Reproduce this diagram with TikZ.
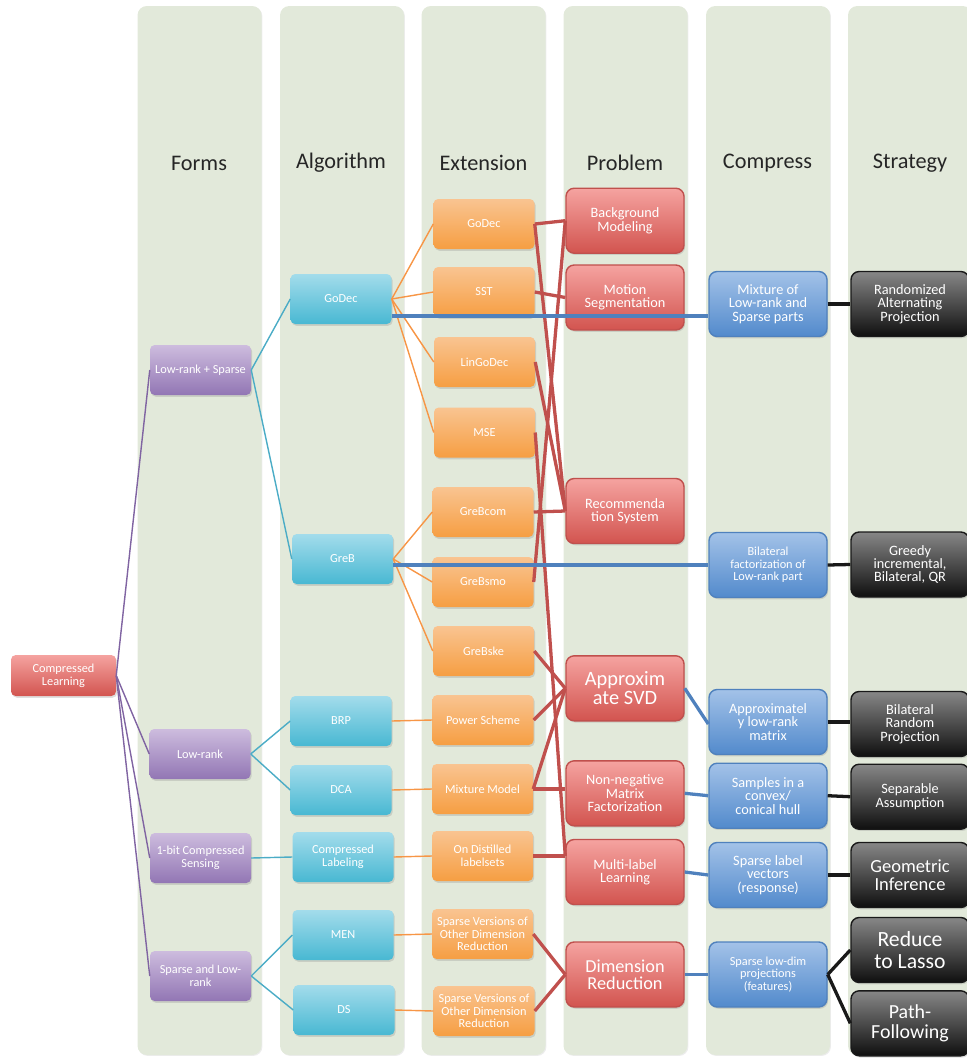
\documentclass[tikz,border=0pt]{standalone}
\usepackage{fontspec}
\setmainfont{Carlito}
\usepackage{tikz}
\usetikzlibrary{shapes, positioning, calc, shadows}

\definecolor{panelc}{RGB}{226,233,218}
\definecolor{headc}{RGB}{38,38,38}
\definecolor{purtop}{RGB}{205,188,222}
\definecolor{purbot}{RGB}{146,118,180}
\definecolor{purln}{RGB}{128,100,162}
\definecolor{cyantop}{RGB}{163,220,235}
\definecolor{cyanbot}{RGB}{72,184,210}
\definecolor{cyanln}{RGB}{75,172,198}
\definecolor{orgtop}{RGB}{249,196,145}
\definecolor{orgbot}{RGB}{246,158,66}
\definecolor{orgln}{RGB}{247,150,70}
\definecolor{redtop}{RGB}{245,163,160}
\definecolor{redbot}{RGB}{210,84,79}
\definecolor{redln}{RGB}{192,80,77}
\definecolor{blutop}{RGB}{163,194,232}
\definecolor{blubot}{RGB}{82,138,204}
\definecolor{bluln}{RGB}{79,129,189}
\definecolor{blktop}{RGB}{135,135,135}
\definecolor{blkbot}{RGB}{15,15,15}

\newlength{\pxu}
\setlength{\pxu}{0.03cm}

\newcommand\fntA{\fontsize{10.5}{10.8}\selectfont}
\newcommand\fntB{\fontsize{12.2}{11.5}\selectfont}
\newcommand\fntHead{\fontsize{19}{22}\selectfont}
\newcommand\fntSvd{\fontsize{17.4}{16.5}\selectfont}
\newcommand\fntDim{\fontsize{15.6}{14.6}\selectfont}
\newcommand\fntGeo{\fontsize{15.8}{15}\selectfont}
\newcommand\fntLasso{\fontsize{18.5}{18.5}\selectfont}
\newcommand\fntPath{\fontsize{17}{17}\selectfont}

\tikzset{
  panel/.style={fill=panelc, rounded corners=8pt,
    drop shadow={opacity=0.15, shadow xshift=0.8pt, shadow yshift=-0.8pt}},
  head/.style={font=\fntHead, text=headc},
  box/.style={rounded corners=4pt, inner sep=1pt, align=center, text=white,
    drop shadow={opacity=0.25, shadow xshift=1pt, shadow yshift=-1.5pt}},
  smallbox/.style={box, minimum width=101\pxu, minimum height=50\pxu, font=\fntA},
  bigbox/.style={box, rounded corners=7pt, line width=1.2pt,
    minimum width=118\pxu, minimum height=65\pxu, font=\fntB},
  rootbox/.style={box, top color=redtop, bottom color=redbot,
    minimum width=105\pxu, minimum height=41\pxu, font=\fntA},
  formbox/.style={smallbox, top color=purtop, bottom color=purbot},
  algbox/.style={smallbox, top color=cyantop, bottom color=cyanbot},
  extbox/.style={smallbox, top color=orgtop, bottom color=orgbot},
  probbox/.style={bigbox, top color=redtop, bottom color=redbot, draw=redln},
  compbox/.style={bigbox, top color=blutop, bottom color=blubot, draw=bluln},
  stratbox/.style={bigbox, top color=blktop, bottom color=blkbot, draw=black!90},
  topur/.style={draw=purln, line width=1.2pt},
  tocyan/.style={draw=cyanln, line width=1.2pt},
  toorg/.style={draw=orgln, line width=1.2pt},
  tored/.style={draw=redln, line width=2.8pt},
  toblue/.style={draw=bluln, line width=2.8pt},
  toblack/.style={draw=black!90, line width=2.8pt}
}

\begin{document}
\begin{tikzpicture}[x=0.03cm, y=-0.03cm]
\useasboundingbox (0,0) rectangle (966,1058);

\foreach \xs in {137.5,280,421.5,563.5,706,848}
  \fill[panel] (\xs,6) rectangle ++(124,1049);

\node[head] (hforms) at (199,163) {Forms};
\node[head] (halg) at (341,163) {Algorithm};
\node[head] (hext) at (483.5,163) {Extension};
\node[head] (hprob) at (625,163) {Problem};
\node[head] (hcomp) at (767.5,163) {Compress};
\node[head] (hstrat) at (910,163) {Strategy};

\node[rootbox] (root) at (63.5,675.5) {Compressed\\Learning};

\node[formbox] (lrs) at (200.5,370) {Low-rank + Sparse};
\node[formbox] (lr) at (200,754) {Low-rank};
\node[formbox] (onebit) at (200.5,858) {1-bit Compressed\\Sensing};
\node[formbox] (slr) at (200.5,976) {Sparse and Low-\\rank};

\node[algbox] (godec) at (341,299) {GoDec};
\node[algbox] (greb) at (342.5,559) {GreB};
\node[algbox] (brp) at (341,721) {BRP};
\node[algbox] (dca) at (341,790) {DCA};
\node[algbox] (clab) at (343,857) {Compressed\\Labeling};
\node[algbox] (men) at (343,935) {MEN};
\node[algbox] (ds) at (344,1010) {DS};

\node[extbox] (egodec) at (484,224) {GoDec};
\node[extbox] (sst) at (484,292) {SST};
\node[extbox] (lingodec) at (484.5,362) {LinGoDec};
\node[extbox] (mse) at (484.5,432.5) {MSE};
\node[extbox] (grebcom) at (483,512) {GreBcom};
\node[extbox] (grebsmo) at (483,582) {GreBsmo};
\node[extbox] (grebske) at (483.5,651) {GreBske};
\node[extbox] (power) at (483,720) {Power Scheme};
\node[extbox] (mixmod) at (482.5,789) {Mixture Model};
\node[extbox] (distilled) at (482.5,856) {On Distilled\\labelsets};
\node[extbox] (spvone) at (482.5,934) {Sparse Versions of\\Other Dimension\\Reduction};
\node[extbox] (spvtwo) at (484,1011) {Sparse Versions of\\Other Dimension\\Reduction};

\node[probbox] (bgmod) at (625,220.7) {Background\\Modeling};
\node[probbox] (motion) at (625,297.5) {Motion\\Segmentation};
\node[probbox] (recsys) at (625,511) {Recommenda\\tion System};
\node[probbox, font=\fntSvd] (asvd) at (625,688.3) {Approxim\\ate SVD};
\node[probbox] (nmf) at (625,793.3) {Non-negative\\Matrix\\Factorization};
\node[probbox] (mll) at (625,872) {Multi-label\\Learning};
\node[probbox, font=\fntDim] (dimred) at (625,974.5) {Dimension\\Reduction};

\node[compbox] (mixparts) at (768,304) {Mixture of\\Low-rank and\\Sparse parts};
\node[compbox, font=\fntA] (bilat) at (768,565) {Bilateral\\factorization of\\Low-rank part};
\node[compbox] (alr) at (768,722) {Approximatel\\y low-rank\\matrix};
\node[compbox] (samples) at (768,795.7) {Samples in a\\convex/\\conical hull};
\node[compbox] (slv) at (768,875) {Sparse label\\vectors\\(response)};
\node[compbox, font=\fntA] (sld) at (768,974.5) {Sparse low-dim\\projections\\(features)};

\node[stratbox] (rap) at (910,304) {Randomized\\Alternating\\Projection};
\node[stratbox] (greedy) at (910,564.5) {Greedy\\incremental,\\Bilateral, QR};
\node[stratbox] (brproj) at (910,724) {Bilateral\\Random\\Projection};
\node[stratbox] (sepas) at (910,796.7) {Separable\\Assumption};
\node[stratbox, font=\fntGeo] (geoinf) at (910,875) {Geometric\\Inference};
\node[stratbox, font=\fntLasso] (lasso) at (910,950) {Reduce\\to Lasso};
\node[stratbox, font=\fntPath] (pathf) at (910,1023.3) {Path-\\Following};

\foreach \t in {lrs,lr,onebit,slr}
  \draw[topur] (root.east) -- (\t.west);

\draw[tocyan] (lrs.east) -- (godec.west);
\draw[tocyan] (lrs.east) -- (greb.west);
\draw[tocyan] (lr.east) -- (brp.west);
\draw[tocyan] (lr.east) -- (dca.west);
\draw[tocyan] (onebit.east) -- (clab.west);
\draw[tocyan] (slr.east) -- (men.west);
\draw[tocyan] (slr.east) -- (ds.west);

\foreach \t in {egodec,sst,lingodec,mse}
  \draw[toorg] (godec.east) -- (\t.west);
\foreach \t in {grebcom,grebsmo,grebske}
  \draw[toorg] (greb.east) -- (\t.west);
\draw[toorg] (brp.east) -- (power.west);
\draw[toorg] (dca.east) -- (mixmod.west);
\draw[toorg] (clab.east) -- (distilled.west);
\draw[toorg] (men.east) -- (spvone.west);
\draw[toorg] (ds.east) -- (spvtwo.west);

\coordinate (mllin) at (distilled.east -| mll.west);
\draw[tored] (egodec.east) -- (bgmod.west);
\draw[tored] (grebsmo.east) -- (bgmod.west);
\draw[tored] (sst.east) -- (motion.west);
\draw[tored] (egodec.east) -- (recsys.west);
\draw[tored] (lingodec.east) -- (recsys.west);
\draw[tored] (grebcom.east) -- (recsys.west);
\draw[tored] (mse.east) -- (mllin);
\draw[tored] (distilled.east) -- (mllin);
\draw[tored] (grebske.east) -- (asvd.west);
\draw[tored] (power.east) -- (asvd.west);
\draw[tored] (mixmod.east) -- (asvd.west);
\draw[tored] (mixmod.east) -- (mixmod.east -| nmf.west);
\draw[tored] (spvone.east) -- (dimred.west);
\draw[tored] (spvtwo.east) -- (dimred.west);

\draw[toblue] ([yshift=-17\pxu]godec.east) coordinate (gostart) -- (gostart -| mixparts.west);
\draw[toblue] (greb.east |- bilat.west) -- (bilat.west);
\draw[toblue] (asvd.east) -- ([yshift=-2\pxu]alr.west);
\draw[toblue] (nmf.east) -- (samples.west);
\draw[toblue] (mll.east) -- (slv.west);
\draw[toblue] (dimred.east) -- (sld.west);

\draw[toblack] (mixparts.east) -- (rap.west);
\draw[toblack] (bilat.east) -- (greedy.west);
\draw[toblack] (alr.east) -- (alr.east -| brproj.west);
\draw[toblack] (samples.east) -- (sepas.west);
\draw[toblack] (slv.east) -- (geoinf.west);
\draw[toblack] (sld.east) -- (lasso.west);
\draw[toblack] (sld.east) -- (pathf.west);
\end{tikzpicture}
\end{document}
